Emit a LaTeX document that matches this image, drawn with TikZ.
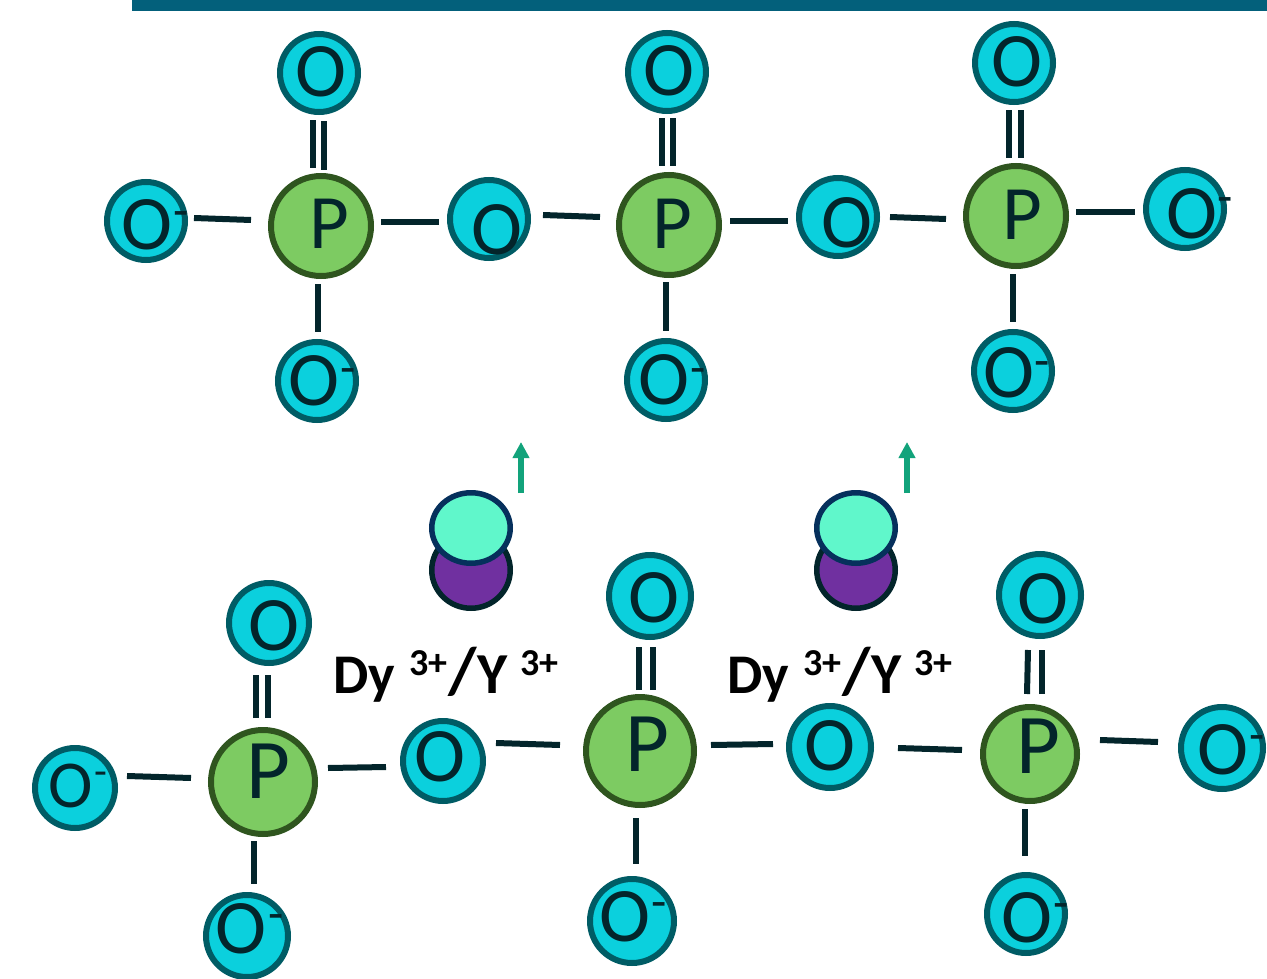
\documentclass[tikz,border=0pt]{standalone}
\usepackage{fontspec}
\setmainfont{Carlito}
\usetikzlibrary{shapes.geometric,arrows.meta}
\definecolor{inkc}{HTML}{03252B}
\definecolor{ofill}{HTML}{0BD0DD}
\definecolor{oline}{HTML}{005C65}
\definecolor{pfill}{HTML}{7DCB62}
\definecolor{pline}{HTML}{2F551F}
\definecolor{barc}{HTML}{03607B}
\definecolor{mint}{HTML}{60F7CB}
\definecolor{navy}{HTML}{06305C}
\definecolor{plum}{HTML}{7030A0}
\definecolor{arrowc}{HTML}{12A37B}
\tikzset{
  x=1pt,y=-1pt,
  oatom/.style={circle,draw=oline,fill=ofill,line width=6pt,inner sep=0pt},
  patom/.style={circle,draw=pline,fill=pfill,line width=6pt,inner sep=0pt},
  glyph/.style={anchor=base,inner sep=0pt,outer sep=0pt,text=inkc,font=\fontsize{77}{80}\selectfont},
  glyphsmall/.style={font=\fontsize{67}{70}\selectfont},
  glyphbig/.style={font=\fontsize{85}{88}\selectfont},
  charge/.style={anchor=base,inner sep=0pt,outer sep=0pt,text=inkc,font=\fontsize{50}{52}\selectfont},
  chargesmall/.style={font=\fontsize{42}{44}\selectfont},
  bond/.style={draw=inkc,line width=6pt},
  lobetop/.style={ellipse,draw=navy,fill=mint,line width=5.5pt,inner sep=0pt,minimum width=78.5pt,minimum height=70.5pt},
  lobelow/.style={ellipse,draw=inkc,fill=plum,line width=5.5pt,inner sep=0pt,minimum width=78.5pt,minimum height=76.5pt},
  upflow/.style={draw=arrowc,line width=5.5pt,-{Triangle[length=16pt,width=16pt]}},
  ionlabel/.style={anchor=base west,inner sep=0pt,text=black,font=\bfseries\fontsize{56}{60}\selectfont}
}
% [glyph options], name, centre, path diameter, glyph position, text
\newcommand{\oat}[6][]{\node[oatom,minimum size=#4pt] (#2) at (#3) {};\node[glyph,#1] (#2t) at (#5) {#6};}
\newcommand{\pat}[5][]{\node[patom,minimum size=#4pt] (#2) at (#3) {};\node[glyph,#1] (#2t) at (#5) {P};}
\newcommand{\chg}[3][]{\node[charge,#1] (#2m) at (#3) {-};}
\newcommand{\bondline}[4]{\draw[bond] ([shift={(#2)}]#1.center) -- ([shift={(#4)}]#3.center);}
\newcommand{\ionsup}{\raisebox{18pt}{\fontsize{38}{40}\selectfont 3+}}
\newcommand{\ionline}{Dy\hspace{14pt}\ionsup\hspace{1pt}{\fontsize{66}{68}\selectfont /}\hspace{1pt}{\fontsize{58}{60}\selectfont Y}\hspace{13pt}\ionsup}
\begin{document}
\begin{tikzpicture}
\useasboundingbox (0,0) rectangle (1267,979);
\fill[barc] (132,0) rectangle (1267,11);

% top chain
\oat{aA}{319,73}{78}{321,97}{O}
\oat{aB}{146,221}{78}{147,249}{O}\chg{aB}{181.5,227}
\pat{aC}{321,226}{100}{329,248}
\oat{aD}{317,381}{78}{314,405}{O}\chg{aD}{348,384}
\oat{aE}{489,219}{78}{497,254}{O}
\pat{aF}{669,225}{100}{672,248}
\oat{aG}{667,72}{78}{669,96}{O}
\oat{aH}{666,380}{78}{664,404}{O}\chg{aH}{698,384}
\oat{aI}{838,217}{78}{847,247}{O}
\pat{aJ}{1016,216}{100}{1022,240}
\oat{aK}{1014,63}{78}{1017,87}{O}
\oat{aL}{1185,209}{78}{1192,238}{O}\chg{aL}{1225,214}
\oat{aM}{1013,371}{78}{1009,397}{O}\chg{aM}{1042.5,377}

\bondline{aB}{48,-3}{aC}{-70,-6}
\bondline{aC}{60,-4}{aE}{-50,3}
\bondline{aE}{54,-4}{aF}{-69,-8}
\bondline{aF}{61,-4}{aI}{-50,4}
\bondline{aI}{52,0}{aJ}{-70,3}
\bondline{aJ}{60,-4}{aL}{-50,3}
\bondline{aC}{-3,58}{aD}{1,-49}
\bondline{aF}{-3,57}{aH}{0,-49}
\bondline{aJ}{-3,58}{aM}{0,-49}
\bondline{aC}{-8,-58}{aA}{-6,47}
\bondline{aC}{3,-56}{aA}{5,48}
\bondline{aF}{-7,-59}{aG}{-5,46}
\bondline{aF}{4,-59}{aG}{6,46}
\bondline{aJ}{-7,-58}{aK}{-5,47}
\bondline{aJ}{5,-58}{aK}{7,47}

% arrows
\coordinate (upAs) at (521,493);\coordinate (upAe) at (521,442);
\coordinate (upBs) at (907,493);\coordinate (upBe) at (907,442);
\draw[upflow] (upAs) -- (upAe);
\draw[upflow] (upBs) -- (upBe);

% ions
\node[lobelow] (ionAl) at (471,570) {};
\node[lobetop] (ionAt) at (471,528) {};
\node[lobelow] (ionBl) at (856,570) {};
\node[lobetop] (ionBt) at (856,528) {};
\node[ionlabel] (labA) at (333,693) {\ionline};
\node[ionlabel] (labB) at (727,693) {\ionline};

% bottom chain
\oat{bA}{269,623}{80}{274,650}{O}
\oat[glyphsmall]{bB}{75,788}{80}{71,807}{O}\chg[chargesmall]{bB}{100.5,785}
\pat[glyphbig]{bC}{263,782}{104}{268,798}
\oat{bD}{247,936}{82}{241,953}{O}\chg{bD}{276.5,930}
\oat{bE}{443,761}{80}{440,781}{O}
\pat[glyphbig]{bF}{640,751}{108}{647,771}
\oat{bG}{650,596}{82}{654,622}{O}
\oat{bH}{632,921}{84}{625,941}{O}\chg{bH}{659.5,918}
\oat{bI}{830,747}{82}{830,770}{O}
\pat[glyphbig]{bJ}{1030,754}{94}{1038,773}
\oat{bK}{1040,595}{82}{1043,623}{O}
\oat{bL}{1222,748}{82}{1223,774}{O}\chg{bL}{1257.5,751}
\oat{bM}{1026,914}{78}{1027,942}{O}\chg{bM}{1061,919}

\bondline{bB}{52,-12}{bC}{-72,-4}
\bondline{bC}{65,-14}{bE}{-57,6}
\bondline{bE}{53,-18}{bF}{-80,-6}
\bondline{bF}{71,-6}{bI}{-57,-3}
\bondline{bI}{68,1}{bJ}{-68,-4}
\bondline{bJ}{70,-14}{bL}{-64,-6}
\bondline{bC}{-9,59}{bD}{7,-52}
\bondline{bF}{-4,67}{bH}{4,-57}
\bondline{bJ}{-5,55}{bM}{-1,-58}
\bondline{bC}{-7,-64}{bA}{-13,52}
\bondline{bC}{5,-64}{bA}{-1,52}
\bondline{bF}{-1,-61}{bG}{-11,51}
\bondline{bF}{13,-61}{bG}{3,51}
\bondline{bJ}{-3,-60}{bK}{-12,55}
\bondline{bJ}{12,-60}{bK}{2,55}
\end{tikzpicture}
\end{document}
